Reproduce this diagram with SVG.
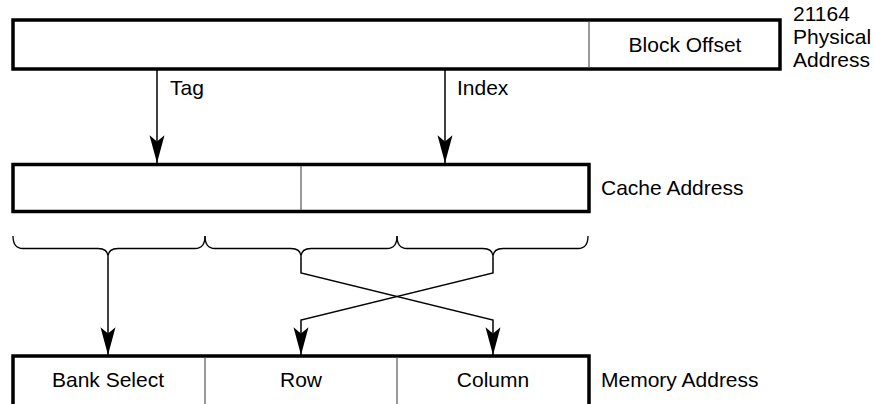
<svg xmlns="http://www.w3.org/2000/svg" width="874" height="404" viewBox="0 0 874 404">
  <style>
    .box { fill: #ffffff; stroke: #000000; stroke-width: 3.5; }
    .div { stroke: #555555; stroke-width: 1.2; fill: none; }
    .lbl { font-family: "Liberation Sans", Arial, sans-serif; font-size: 21px; fill: #000000; }
    .mid { text-anchor: middle; }
    .con { stroke: #000000; stroke-width: 1.5; fill: none; }
    .brace { stroke: #000000; stroke-width: 1.3; fill: none; }
  </style>
  <defs>
    <marker id="arrow" markerUnits="userSpaceOnUse" markerWidth="30" markerHeight="18" viewBox="-27 -8 28 16" refX="0" refY="0" orient="auto">
      <path d="M0,0 L-26,-7 L-20,0 L-26,7 Z" fill="#000000"/>
    </marker>
  </defs>

  <g id="physical-address">
    <rect class="box" x="13" y="20" width="767" height="49"/>
    <line class="div" x1="589" y1="21.5" x2="589" y2="67.5"/>
    <text class="lbl mid" x="685" y="52">Block Offset</text>
    <text class="lbl" x="793" y="21">21164</text>
    <text class="lbl" x="793" y="44">Physical</text>
    <text class="lbl" x="793" y="67">Address</text>
  </g>

  <g id="cache-address">
    <rect class="box" x="13" y="164.5" width="576" height="47"/>
    <line class="div" x1="301" y1="166" x2="301" y2="210"/>
    <text class="lbl" x="601" y="195">Cache Address</text>
  </g>

  <g id="memory-address">
    <rect class="box" x="13" y="356" width="576" height="54"/>
    <line class="div" x1="205" y1="357.5" x2="205" y2="404"/>
    <line class="div" x1="397" y1="357.5" x2="397" y2="404"/>
    <text class="lbl mid" x="108" y="387">Bank Select</text>
    <text class="lbl mid" x="301" y="387">Row</text>
    <text class="lbl mid" x="493" y="387">Column</text>
    <text class="lbl" x="601" y="387">Memory Address</text>
  </g>

  <g id="braces">
    <path class="brace" d="M13,236 Q13,248.5 23,248.5 L98,248.5 Q108,248.5 108,257 Q108,248.5 118,248.5 L195,248.5 Q205,248.5 205,236"/>
    <path class="brace" d="M205,236 Q205,248.5 215,248.5 L291,248.5 Q301,248.5 301,257 Q301,248.5 311,248.5 L387,248.5 Q397,248.5 397,236"/>
    <path class="brace" d="M397,236 Q397,248.5 407,248.5 L483,248.5 Q493,248.5 493,257 Q493,248.5 503,248.5 L578,248.5 Q588,248.5 588,236"/>
  </g>

  <g id="connectors">
    <line class="con" x1="157" y1="69" x2="157" y2="163" marker-end="url(#arrow)"/>
    <text class="lbl" x="170" y="95">Tag</text>
    <line class="con" x1="445" y1="69" x2="445" y2="163" marker-end="url(#arrow)"/>
    <text class="lbl" x="457" y="95">Index</text>
    <line class="con" x1="108" y1="257" x2="108" y2="355" marker-end="url(#arrow)"/>
    <polyline class="con" points="301,257 301,273 493,320 493,355" marker-end="url(#arrow)"/>
    <polyline class="con" points="493,257 493,273 301,320 301,355" marker-end="url(#arrow)"/>
  </g>
</svg>
